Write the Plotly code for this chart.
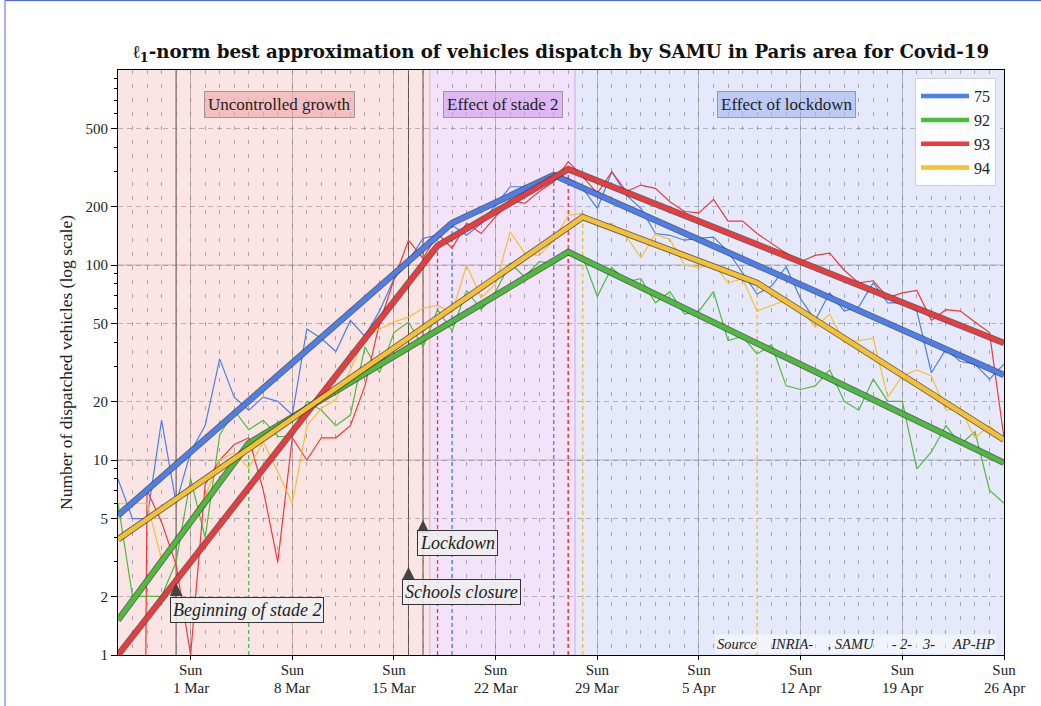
import math
import pandas as pd
import plotly.graph_objects as go

# ---------------- data ----------------
dates = pd.date_range("2020-02-25", "2020-04-26", freq="D")

departments = ["75", "92", "93", "94"]
colors = ["#4a7ff0", "#4cbd3a", "#ee3a3a", "#f7c02e"]

raw_75 = [8, 5, 5, 16, 6, 11, 15, 33, 21, 18, 21, 20, 17, 47, 42, 36, 52, 43, 58, 85,
          105, 137, 142, 160, 142, 163, 203, 252, 252, 252, 278, 278, 247, 195, 301, 228,
          195, 145, 142, 134, 137, 139, 117, 91, 71, 78, 98, 67, 52, 72, 58, 61, 81, 64,
          64, 58, 28, 37, 32, 31, 26, 31]
raw_92 = [6, 2, 2, 2, 3, 8, 4, 13.4, 18, 14.3, 16, 13.2, 13.2, 20, 18, 15, 17, 38, 28, 45,
          51, 38, 59, 46, 74, 59, 73, 102, 87, 104, 102, 115, 110, 69, 97, 82, 85, 64, 73,
          56, 58, 73, 41, 43, 35, 39, 24, 23, 24, 29, 20, 18, 26, 20, 20, 9, 11, 15, 12,
          14, 7, 6]
raw_93 = [0, 0, 7, 4.8, 2.9, 1, 7.5, 10, 12, 13, 7, 3, 13, 10, 13, 13, 15, 24, 50, 84,
          134, 108, 145, 122, 164, 145, 177, 215, 207, 238, 267, 339, 284, 233, 301, 238,
          257, 247, 211, 188, 185, 217, 168, 168, 145, 129, 115, 104, 112, 115, 94, 81, 83,
          68, 72, 74, 52, 59, 58, 51, 45, 13]
raw_94 = [6, 6, 6, 3.1, 3.9, 5, 6.5, 10, 10.9, 9.1, 12.4, 8.7, 6, 15, 18.4, 20.5, 29, 42.6,
          47, 51, 54, 60, 62, 57, 100, 68, 80, 148, 115, 112, 134, 180, 184, 160, 164, 140,
          109, 144, 135, 100, 97, 102, 81, 85, 58, 62, 66, 60, 48, 56, 40, 41, 42, 21, 27,
          29, 27, 18, 18.4, 13, 15, 12.7]
raw_series = [raw_75, raw_92, raw_93, raw_94]

fit_75_dates = ["2020-02-25", "2020-03-19", "2020-03-26", "2020-04-26"]
fit_75_vals = [5.2, 164, 289, 27.3]
fit_92_dates = ["2020-02-25", "2020-03-05", "2020-03-27", "2020-04-26"]
fit_92_vals = [1.51, 12.2, 116.6, 9.66]
fit_93_dates = ["2020-02-25", "2020-03-18", "2020-03-27", "2020-04-26"]
fit_93_vals = [1.0, 125.6, 310, 39.8]
fit_94_dates = ["2020-02-25", "2020-03-28", "2020-04-09", "2020-04-26"]
fit_94_vals = [3.92, 176, 81, 12.7]
fit_dates = [fit_75_dates, fit_92_dates, fit_93_dates, fit_94_dates]
fit_vals = [fit_75_vals, fit_92_vals, fit_93_vals, fit_94_vals]

event_dates = ["2020-02-29", "2020-03-16", "2020-03-17"]
event_labels = ["Beginning of stade 2", "Schools closure", "Lockdown"]
event_arrow_tip = [2.34, 2.83, 4.92]     # value where the arrow tip points
event_box_top = [1.98, 2.45, 4.35]

phase_bounds = ["2020-02-25", "2020-03-17 12:00", "2020-03-27 12:00", "2020-04-26"]
phase_labels = ["Uncontrolled growth", "Effect of stade 2", "Effect of lockdown"]
phase_fill = ["#fbe4e4", "#f2e2fa", "#e5e9fb"]
phase_box = ["rgba(240,170,170,0.65)", "rgba(212,160,236,0.65)", "rgba(160,182,240,0.6)"]
phase_edge = ["#f2aaaa", "#d4a6ee", None]
phase_label_x = [0.182, 0.435, 0.755]

y_ticks = [1, 2, 5, 10, 20, 50, 100, 200, 500]
y_minor = [3, 4, 6, 7, 8, 9, 30, 40, 60, 70, 80, 90, 300, 400, 600, 700, 800, 900]
decades = [10, 100]
sundays = pd.date_range("2020-03-01", "2020-04-26", freq="7D")

FLOOR = 1e-9  # zero counts are clipped far below the axis (as a log plot does)

SERIF = "Liberation Serif"
PLOT_H = 585
fig = go.Figure()

# phase bands
shapes = []
for i in range(3):
    shapes.append(dict(type="rect", xref="x", yref="paper", x0=phase_bounds[i], x1=phase_bounds[i + 1],
                       y0=0, y1=1, fillcolor=phase_fill[i], line=dict(width=0), layer="below"))
    if phase_edge[i]:
        shapes.append(dict(type="line", xref="x", yref="paper", x0=phase_bounds[i + 1], x1=phase_bounds[i + 1],
                           y0=0, y1=1, line=dict(color=phase_edge[i], width=2), layer="between"))
for d in event_dates:
    shapes.append(dict(type="line", xref="x", yref="paper", x0=d, x1=d, y0=0, y1=1,
                       line=dict(color="rgba(30,30,30,0.75)", width=1), layer="between"))
# page frame artifact (thin blue border)
shapes.append(dict(type="line", xref="paper", yref="paper", x0=(5 - 118) / 886, x1=(1041 - 118) / 886,
                   y0=(655 - 0.5) / PLOT_H, y1=(655 - 0.5) / PLOT_H, line=dict(color="#5060ff", width=1)))
shapes.append(dict(type="line", xref="paper", yref="paper", x0=(5 - 118) / 886, x1=(5 - 118) / 886,
                   y0=(655 - 706) / PLOT_H, y1=(655 - 0.5) / PLOT_H, line=dict(color="#5060ff", width=1)))

# solid decade grid lines
for v in decades:
    fig.add_trace(go.Scatter(x=[dates[0], dates[-1]], y=[v, v], mode="lines",
                             line=dict(color="rgba(110,110,110,0.45)", width=1),
                             showlegend=False, hoverinfo="skip"))

# dashed breakpoint markers
for k in range(4):
    for bd, bv in zip(fit_dates[k][1:-1], fit_vals[k][1:-1]):
        fig.add_trace(go.Scatter(x=[bd, bd], y=[1, bv], mode="lines",
                                 line=dict(color=colors[k], width=1.3, dash="4px,3px"),
                                 showlegend=False, hoverinfo="skip"))
# raw series
for k in range(4):
    yv = [v if v > 0 else FLOOR for v in raw_series[k]]
    fig.add_trace(go.Scatter(x=dates, y=yv, mode="lines", line=dict(color=colors[k], width=1.2),
                             showlegend=False, hoverinfo="skip"))
# fits
for k in range(4):
    fig.add_trace(go.Scatter(x=fit_dates[k], y=fit_vals[k], mode="lines",
                             line=dict(color="rgba(60,60,60,0.75)", width=6.5),
                             showlegend=False, hoverinfo="skip"))
    fig.add_trace(go.Scatter(x=fit_dates[k], y=fit_vals[k], mode="lines", name=departments[k],
                             line=dict(color=colors[k], width=4.5)))

# event arrow heads
fig.add_trace(go.Scatter(x=event_dates, y=event_arrow_tip, mode="markers",
                         marker=dict(symbol="arrow-up", size=13, color="#444", line=dict(width=0)),
                         showlegend=False, hoverinfo="skip"))

annotations = []
for i in range(3):
    annotations.append(dict(text=phase_labels[i], xref="paper", yref="paper", x=phase_label_x[i], y=0.9417,
                            xanchor="center", yanchor="middle", showarrow=False,
                            font=dict(family=SERIF, size=17, color="#222"),
                            bgcolor=phase_box[i], bordercolor="rgba(110,110,110,0.6)", borderwidth=1, borderpad=3))
for d, lab, top in zip(event_dates, event_labels, event_box_top):
    annotations.append(dict(text="<i>" + lab + "</i>", x=d, y=math.log10(top), xref="x", yref="y",
                            xanchor="left", yanchor="top", xshift=-6, showarrow=False,
                            font=dict(family=SERIF, size=18, color="#222"),
                            bgcolor="rgba(238,238,238,0.9)", bordercolor="#333", borderwidth=1, borderpad=2))
annotations.append(dict(text="<i>Source\u00a0\u00a0\u00a0 INRIA-\u00a0\u00a0\u00a0\u00a0, SAMU\u00a0\u00a0\u00a0\u00a0\u00a0- 2-\u00a0\u00a0 3-\u00a0\u00a0\u00a0\u00a0 AP-HP</i>",
                        xref="paper", yref="paper", x=0.992, y=0.002, xanchor="right", yanchor="bottom",
                        showarrow=False, font=dict(family=SERIF, size=14.5, color="#222"),
                        bgcolor="rgba(255,255,255,0.45)", borderpad=1))
# second line of the x tick labels (dates)
for d in sundays:
    annotations.append(dict(text=f"{d.day} {d.strftime('%b')}", x=d, xref="x", yref="paper",
                            y=(655 - 688) / PLOT_H, xanchor="center", yanchor="middle", showarrow=False,
                            font=dict(family=SERIF, size=15, color="#222")))

fig.update_layout(
    width=1041, height=706,
    margin=dict(l=118, r=37, t=70, b=51, autoexpand=False),
    paper_bgcolor="white", plot_bgcolor="white",
    font=dict(family=SERIF, color="#222"),
    title=dict(text="<b>ℓ<sub>1</sub>-norm best approximation of vehicles dispatch by SAMU in Paris area for Covid-19</b>",
               x=0.5, xref="paper", xanchor="center", y=1 - 52 / 706, yref="container", yanchor="middle",
               font=dict(family="DejaVu Serif", size=18.2, color="#111")),
    shapes=shapes, annotations=annotations,
    legend=dict(x=0.991, xanchor="right", y=0.986, yanchor="top", font=dict(family=SERIF, size=16),
                bgcolor="rgba(255,255,255,0.88)", bordercolor="#d0d0d0", borderwidth=1, tracegroupgap=0,
                itemwidth=48),
    xaxis=dict(type="date", range=[dates[0], dates[-1]], tickvals=list(sundays),
               ticktext=["Sun" for d in sundays], automargin=False, ticklabelstandoff=-3,
               ticks="outside", ticklen=4, tickcolor="black", showline=True, linecolor="black", mirror=True,
               showgrid=True, gridcolor="rgba(110,110,110,0.45)", gridwidth=1, zeroline=False,
               tickfont=dict(size=15),
               minor=dict(dtick=86400000, tick0="2020-02-25", showgrid=True,
                          gridcolor="rgba(120,120,120,0.6)", griddash="4px,10px", gridwidth=1)),
    yaxis=dict(type="log", range=[0, 3], tickvals=y_ticks, ticktext=[str(v) for v in y_ticks],
               automargin=False,
               ticks="outside", ticklen=6, tickcolor="black", showline=True, linecolor="black", mirror=True,
               showgrid=True, gridcolor="rgba(110,110,110,0.45)", griddash="5px,4px", zeroline=False,
               tickfont=dict(size=15),
               minor=dict(tickvals=y_minor, ticks="outside", ticklen=3, tickcolor="black", showgrid=False),
               title=dict(text="Number of dispatched vehicles (log scale)", standoff=8, font=dict(size=17.5))),
)

fig.write_html("out.html", config={"displayModeBar": False},
               post_script="document.body.style.margin='0px';")
